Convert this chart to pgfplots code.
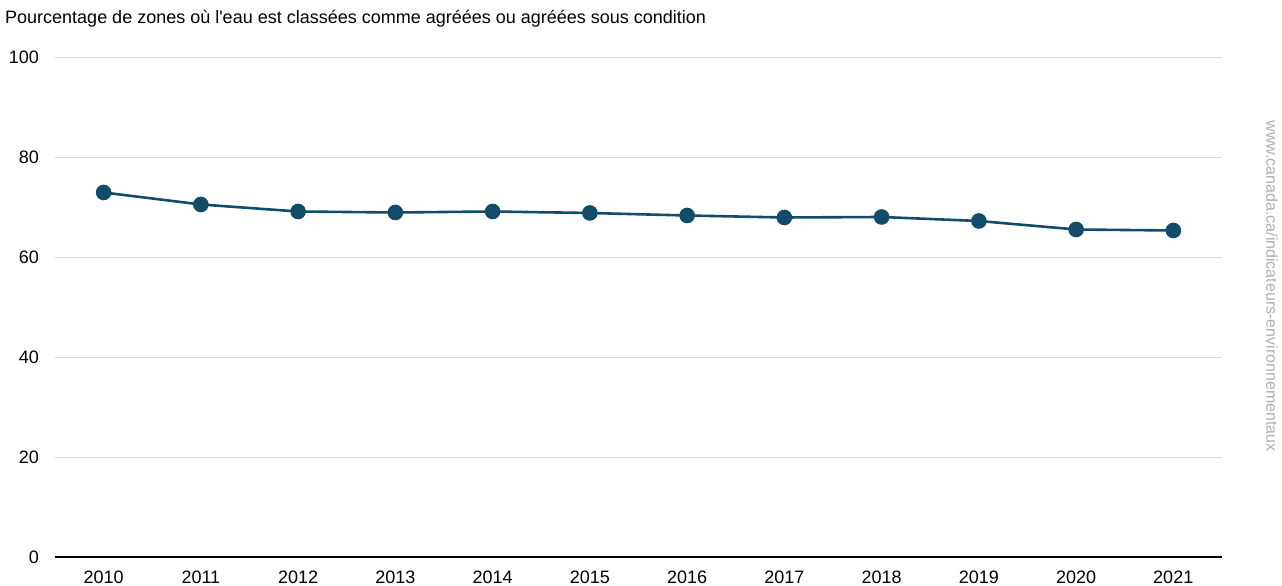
\documentclass[border=0pt]{standalone}
\usepackage{pgfplots}
\pgfplotsset{compat=1.18}
\usepackage{fontspec}
\setmainfont{Liberation Sans}
\definecolor{linec}{RGB}{17,76,104}
\definecolor{gridc}{RGB}{217,217,217}
\definecolor{wm}{RGB}{175,175,175}
\begin{document}
\fontsize{18}{21}\selectfont
\begin{tikzpicture}[x=1pt,y=1pt]
\path[use as bounding box] (0,0) rectangle (1282,586);
\begin{axis}[
  at={(55pt,29pt)}, anchor=south west,
  scale only axis, width=1167pt, height=500pt,
  xmin=2009.5, xmax=2021.5, ymin=0, ymax=100,
  xtick={2010,...,2021}, ytick={0,20,...,100},
  xticklabel style={/pgf/number format/1000 sep={}},
  /pgf/number format/assume math mode=true,
  tick style={draw=none},
  ymajorgrids, grid style={gridc, line width=0.8pt},
  axis x line*=bottom, axis y line*=left,
  y axis line style={draw=none},
  x axis line style={black, line width=2pt, -},
  xticklabel style={yshift=-8pt},
  yticklabel style={xshift=-10pt},
  ticklabel style={font=\fontsize{18}{21}\selectfont},
  clip=false,
]
\addplot[linec, line width=2.6pt, mark=*, mark size=6.5pt, mark options={fill=linec, draw=linec}] coordinates {
(2010,72.9) (2011,70.5) (2012,69.1) (2013,68.9) (2014,69.1) (2015,68.8)
(2016,68.3) (2017,67.9) (2018,68.0) (2019,67.2) (2020,65.5) (2021,65.3)
};
\end{axis}
\node[anchor=west, inner sep=0] at (5,567) {Pourcentage de zones où l\textquotesingle eau est classées comme agréées ou agréées sous condition};
\node[rotate=-90, text=wm, inner sep=0, font=\fontsize{16}{19}\selectfont] at (1272,300) {www.canada.ca/indicateurs-environnementaux};
\end{tikzpicture}
\end{document}
